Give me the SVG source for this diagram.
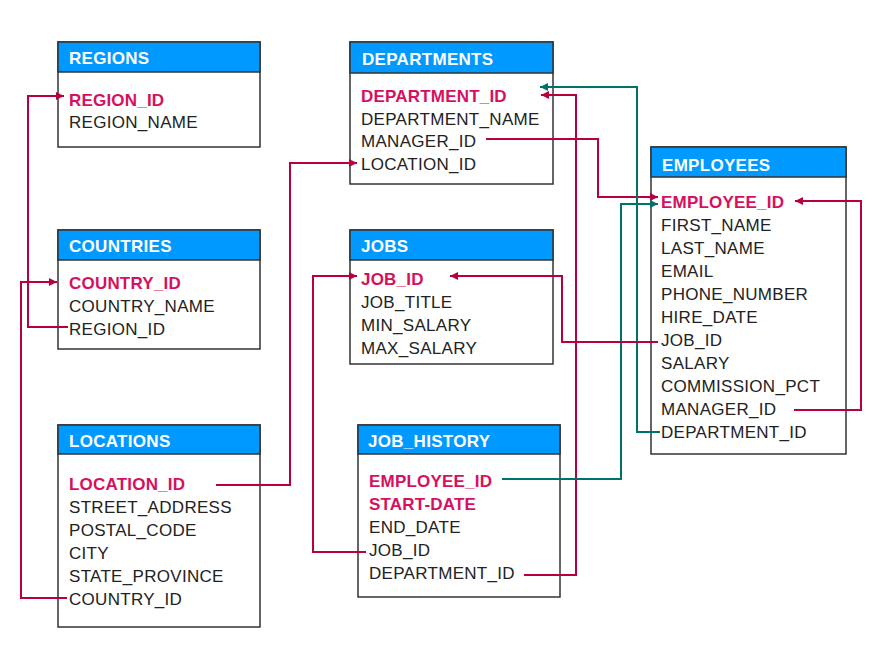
<svg xmlns="http://www.w3.org/2000/svg" width="887" height="649" viewBox="0 0 887 649">
<defs>
<style>
.box{fill:#fff;stroke:#333;stroke-width:1.5}
.hdr{fill:#0099ff;stroke:#333;stroke-width:1.5}
.ht{font-family:"Liberation Sans",Arial,sans-serif;font-size:17px;font-weight:bold;fill:#fff;letter-spacing:0.3px}
.f{font-family:"Liberation Sans",Arial,sans-serif;font-size:17px;fill:#222;letter-spacing:0.3px}
.k{font-family:"Liberation Sans",Arial,sans-serif;font-size:17px;font-weight:bold;fill:#d6105e;letter-spacing:0.2px}
.r{fill:none;stroke:#b8003c;stroke-width:2}
.t{fill:none;stroke:#00716c;stroke-width:2}
</style>
<marker id="ar" markerUnits="userSpaceOnUse" markerWidth="8" markerHeight="8" refX="8" refY="4" orient="auto"><path d="M0,0 L8,4 L0,8 z" fill="#b8003c"/></marker>
<marker id="at" markerUnits="userSpaceOnUse" markerWidth="8" markerHeight="8" refX="8" refY="4" orient="auto"><path d="M0,0 L8,4 L0,8 z" fill="#00716c"/></marker>
</defs>
<rect width="887" height="649" fill="#fff"/>

<g id="regions">
<rect class="box" x="58" y="42" width="202" height="105"/>
<rect class="hdr" x="58" y="42" width="202" height="30"/>
<text class="ht" x="69" y="64">REGIONS</text>
<text class="k" x="69" y="106">REGION_ID</text>
<text class="f" x="69" y="128">REGION_NAME</text>
</g>

<g id="departments">
<rect class="box" x="350" y="42" width="203" height="142"/>
<rect class="hdr" x="350" y="42" width="203" height="31"/>
<text class="ht" x="362" y="65">DEPARTMENTS</text>
<text class="k" x="361" y="102">DEPARTMENT_ID</text>
<text class="f" x="361" y="125">DEPARTMENT_NAME</text>
<text class="f" x="361" y="147">MANAGER_ID</text>
<text class="f" x="361" y="170">LOCATION_ID</text>
</g>

<g id="employees">
<rect class="box" x="651" y="147" width="195" height="307"/>
<rect class="hdr" x="651" y="147" width="195" height="30"/>
<text class="ht" x="662" y="171">EMPLOYEES</text>
<text class="k" x="661" y="208">EMPLOYEE_ID</text>
<text class="f" x="661" y="231">FIRST_NAME</text>
<text class="f" x="661" y="254">LAST_NAME</text>
<text class="f" x="661" y="277">EMAIL</text>
<text class="f" x="661" y="300">PHONE_NUMBER</text>
<text class="f" x="661" y="323">HIRE_DATE</text>
<text class="f" x="661" y="346">JOB_ID</text>
<text class="f" x="661" y="369">SALARY</text>
<text class="f" x="661" y="392">COMMISSION_PCT</text>
<text class="f" x="661" y="415">MANAGER_ID</text>
<text class="f" x="661" y="438">DEPARTMENT_ID</text>
</g>

<g id="countries">
<rect class="box" x="58" y="230" width="202" height="119"/>
<rect class="hdr" x="58" y="230" width="202" height="30"/>
<text class="ht" x="69" y="252">COUNTRIES</text>
<text class="k" x="69" y="289">COUNTRY_ID</text>
<text class="f" x="69" y="312">COUNTRY_NAME</text>
<text class="f" x="69" y="335">REGION_ID</text>
</g>

<g id="jobs">
<rect class="box" x="350" y="230" width="203" height="134"/>
<rect class="hdr" x="350" y="230" width="203" height="30"/>
<text class="ht" x="361" y="252">JOBS</text>
<text class="k" x="361" y="285">JOB_ID</text>
<text class="f" x="361" y="308">JOB_TITLE</text>
<text class="f" x="361" y="331">MIN_SALARY</text>
<text class="f" x="361" y="354">MAX_SALARY</text>
</g>

<g id="locations">
<rect class="box" x="58" y="425" width="202" height="202"/>
<rect class="hdr" x="58" y="425" width="202" height="29"/>
<text class="ht" x="69" y="447">LOCATIONS</text>
<text class="k" x="69" y="490">LOCATION_ID</text>
<text class="f" x="69" y="513">STREET_ADDRESS</text>
<text class="f" x="69" y="536">POSTAL_CODE</text>
<text class="f" x="69" y="559">CITY</text>
<text class="f" x="69" y="582">STATE_PROVINCE</text>
<text class="f" x="69" y="605">COUNTRY_ID</text>
</g>

<g id="job_history">
<rect class="box" x="358" y="425" width="202" height="172"/>
<rect class="hdr" x="358" y="425" width="202" height="29"/>
<text class="ht" x="368" y="447">JOB_HISTORY</text>
<text class="k" x="369" y="487">EMPLOYEE_ID</text>
<text class="k" x="369" y="510">START-DATE</text>
<text class="f" x="369" y="533">END_DATE</text>
<text class="f" x="369" y="556">JOB_ID</text>
<text class="f" x="369" y="579">DEPARTMENT_ID</text>
</g>

<g id="connectors">
<polyline class="r" points="68,327 28,327 28,96 64,96" marker-end="url(#ar)"/>
<polyline class="r" points="67,598 21,598 21,282 57,282" marker-end="url(#ar)"/>
<polyline class="r" points="216,485 290,485 290,163 357,163" marker-end="url(#ar)"/>
<polyline class="r" points="486,139 598,139 598,197 658,197" marker-end="url(#ar)"/>
<polyline class="r" points="524,575 576,575 576,95 541,95" marker-end="url(#ar)"/>
<polyline class="t" points="660,432 637,432 637,87 540,87" marker-end="url(#at)"/>
<polyline class="t" points="502,479 621,479 621,204 658,204" marker-end="url(#at)"/>
<polyline class="r" points="658,342 562,342 562,276 450,276" marker-end="url(#ar)"/>
<polyline class="r" points="366,552 313,552 313,276 357,276" marker-end="url(#ar)"/>
<polyline class="r" points="794,410 861,410 861,201 795,201" marker-end="url(#ar)"/>
</g>
</svg>
